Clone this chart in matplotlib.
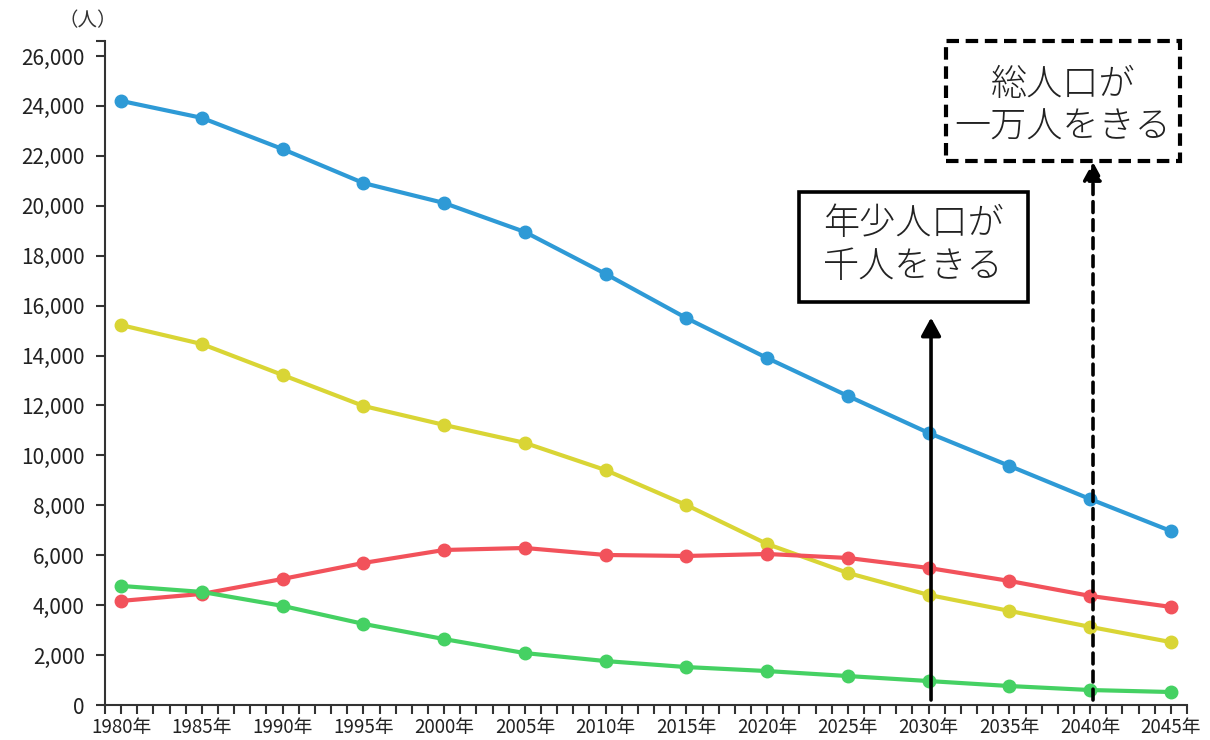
import matplotlib
matplotlib.use('Agg')
import matplotlib.pyplot as plt
from matplotlib.patches import Rectangle
from matplotlib.ticker import FuncFormatter

plt.rcParams['font.family'] = ['Noto Sans CJK JP', 'DejaVu Sans']

# データ
years = [1980, 1985, 1990, 1995, 2000, 2005, 2010, 2015, 2020, 2025, 2030, 2035, 2040, 2045]
total = [24200, 23520, 22270, 20910, 20110, 18950, 17270, 15500, 13900, 12380, 10900, 9580, 8250, 6970]
working = [15220, 14460, 13220, 11980, 11220, 10500, 9410, 8010, 6450, 5290, 4410, 3770, 3130, 2520]
elderly = [4170, 4450, 5050, 5690, 6210, 6290, 6010, 5970, 6050, 5890, 5490, 4970, 4370, 3930]
children = [4770, 4530, 3970, 3250, 2640, 2080, 1760, 1520, 1360, 1160, 960, 760, 600, 520]

series = [
    (total, '#2e9ad6'),
    (working, '#d9d535'),
    (elderly, '#f2525b'),
    (children, '#45d163'),
]

W, H = 1210, 740
fig = plt.figure(figsize=(W / 100, H / 100), dpi=100)
ax = fig.add_axes([105 / W, 35 / H, (1187 - 105) / W, (705 - 41) / H])

for vals, col in series:
    ax.plot(years, vals, color=col, lw=3, marker='o', ms=9, zorder=3)

ax.set_xlim(1979, 2046)
ax.set_ylim(0, 26600)

ax.set_xticks(range(1979, 2047))
ax.set_xticklabels([f'{y}年' if y % 5 == 0 else '' for y in range(1979, 2047)])
yt = list(range(0, 26001, 2000)) + [26600]
ax.set_yticks(yt)
ax.yaxis.set_major_formatter(FuncFormatter(lambda v, p: '' if v > 26000 else f'{int(v):,}'))

for s in ['top', 'right']:
    ax.spines[s].set_visible(False)
for s in ['left', 'bottom']:
    ax.spines[s].set_color('#333333')
    ax.spines[s].set_linewidth(1.5)
ax.tick_params(axis='both', direction='out', length=6.5, width=1.5, color='#333333')
ax.tick_params(axis='y', labelsize=15, labelcolor='#222222', pad=8)
ax.tick_params(axis='x', labelsize=13.5, labelcolor='#222222', pad=2)

fig.text(58 / W, 1 - 21 / H, '（人）', fontsize=14, color='#333333', ha='left', va='center')

# 矢印
ax.annotate('', xy=(2030.15, 15520), xytext=(2030.15, 200),
            arrowprops=dict(arrowstyle='-|>,head_length=0.55,head_width=0.3',
                            mutation_scale=20, lw=2.6, color='black',
                            shrinkA=0, shrinkB=0), zorder=5)
ax.annotate('', xy=(2040.18, 21750), xytext=(2040.18, 200),
            arrowprops=dict(arrowstyle='-|>,head_length=0.55,head_width=0.3',
                            mutation_scale=20, lw=2.6, color='black', linestyle=(0, (3, 2)),
                            shrinkA=0, shrinkB=0), zorder=5)


def box(x0, y0, x1, y1, ls):
    r = Rectangle((x0 / W, 1 - y1 / H), (x1 - x0) / W, (y1 - y0) / H,
                  transform=fig.transFigure, fill=True, facecolor='white',
                  edgecolor='black', lw=2.6 if ls == '-' else 3, linestyle=ls, zorder=6)
    fig.patches.append(r)


box(799, 192, 1028, 302, '-')
box(946, 41, 1180, 161, (0, (3, 1.6)))

fig.text(913 / W, 1 - 245 / H, '年少人口が\n千人をきる', fontsize=26, color='#222222',
         ha='center', va='center', linespacing=1.15, fontweight='light', zorder=7)
fig.text(1063 / W, 1 - 106 / H, '総人口が\n一万人をきる', fontsize=26, color='#222222',
         ha='center', va='center', linespacing=1.15, fontweight='light', zorder=7)

fig.savefig('out.png', dpi=100)
